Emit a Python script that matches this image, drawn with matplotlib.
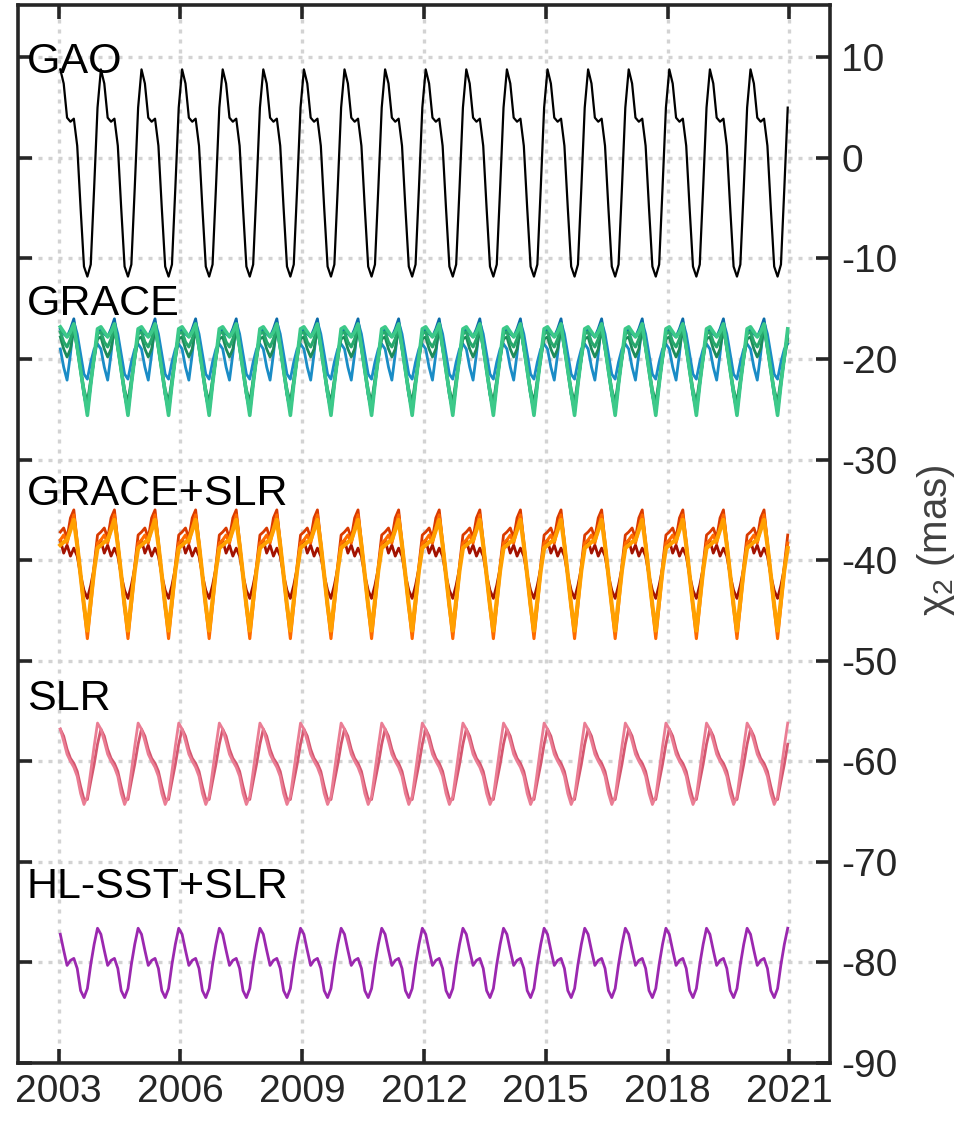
import numpy as np
import matplotlib
matplotlib.use("Agg")
import matplotlib.pyplot as plt

plt.rcParams['font.family'] = ['Liberation Sans', 'DejaVu Sans']
plt.rcParams['axes.unicode_minus'] = False
plt.rcParams['mathtext.fontset'] = 'custom'
plt.rcParams['mathtext.rm'] = 'Liberation Sans'
plt.rcParams['mathtext.it'] = 'Liberation Sans:italic'

# monthly samples, Jan 2003 .. Dec 2020
years = list(range(2003, 2021))

# mean annual cycles (Jan .. Dec), mas
gao_cycle = [8.8, 7.4, 4.0, 3.6, 3.9, 1.2, -5.0, -10.8, -11.8, -10.6, -3.0, 5.0]

grace_blue_a = [-19.0, -20.8, -22.1, -19.5, -16.3, -17.5, -19.5, -21.5, -22.0, -20.3, -19.0, -18.5]
grace_blue_b = [-17.0, -17.5, -17.8, -17.0, -16.0, -18.5, -21.0, -23.5, -25.3, -22.5, -19.8, -17.3]
grace_green_dark = [-17.8, -19.0, -19.8, -19.0, -17.0, -19.0, -21.0, -23.0, -24.3, -22.0, -20.0, -18.0]
grace_green_mid = [-17.3, -18.3, -18.8, -18.0, -16.7, -18.8, -21.2, -23.5, -25.0, -22.3, -19.8, -17.5]
grace_green_light = [-16.8, -17.3, -17.8, -17.3, -16.5, -18.8, -21.1, -23.3, -25.6, -22.5, -19.8, -17.0]

gs_darkred = [-38.0, -39.3, -38.5, -39.6, -38.8, -39.6, -41.5, -43.0, -43.8, -42.5, -40.8, -38.8]
gs_red = [-37.2, -36.8, -37.8, -35.8, -35.0, -38.2, -41.4, -44.6, -47.0, -44.0, -40.5, -37.5]
gs_orange = [-38.0, -37.5, -38.3, -36.8, -35.5, -38.5, -41.6, -44.8, -47.8, -44.5, -41.0, -38.3]
gs_lightorange = [-38.5, -38.2, -38.0, -37.0, -36.0, -38.5, -41.5, -44.5, -47.0, -44.0, -41.0, -38.8]

slr_light = [-56.8, -58.0, -59.3, -60.0, -60.6, -61.5, -63.2, -64.3, -63.5, -61.0, -58.5, -56.2]
slr_dark = [-56.8, -57.5, -58.8, -59.7, -60.2, -61.0, -62.5, -63.8, -63.8, -62.0, -60.3, -58.3]

hl_cycle = [-77.2, -78.8, -80.3, -79.8, -79.6, -80.6, -82.8, -83.5, -82.6, -80.2, -78.2, -76.6]

labels = ["GAO", "GRACE", "GRACE+SLR", "SLR", "HL-SST+SLR"]
label_y = [8.4, -15.6, -34.5, -54.9, -73.6]

# (cycle, colour, width) per group, drawn bottom to top
groups = [
    [(gao_cycle, "#000000", 1.6)],
    [(grace_blue_a, "#1a8cc6", 2.0), (grace_blue_b, "#0a6aa8", 2.0),
     (grace_green_dark, "#1d8c5a", 2.0), (grace_green_mid, "#26a86c", 2.2),
     (grace_green_light, "#3cc989", 2.6)],
    [(gs_darkred, "#a31200", 2.0), (gs_red, "#d93a00", 2.0),
     (gs_orange, "#ff6a00", 2.2), (gs_lightorange, "#ffa000", 3.0)],
    [(slr_dark, "#d4566f", 2.0), (slr_light, "#ea7d94", 2.0)],
    [(hl_cycle, "#9b28af", 2.0)],
]


def main():
    n_years = len(years)
    t = years[0] + (np.arange(12 * n_years) + 0.5) / 12.0

    fig = plt.figure(figsize=(9.58, 11.22), dpi=100)
    ax = fig.add_axes([0.0188, 0.0526, 0.8476, 0.9429])

    for grp in groups:
        for cyc, col, lw in grp:
            ax.plot(t, np.tile(cyc, n_years), color=col, lw=lw, zorder=3)

    for lab, yy in zip(labels, label_y):
        ax.text(2002.22, yy, lab, fontsize=31, color="black",
                va="baseline", ha="left", zorder=4)

    ax.set_xlim(2002, 2022)
    ax.set_ylim(-90, 15.2)
    ax.set_xticks(range(2003, 2022, 3))
    ax.set_yticks(range(-90, 11, 10))

    ax.grid(True, color="#d3d3d3", linestyle=(0, (1.2, 1.8)), linewidth=2.4, zorder=1)
    for s in ax.spines.values():
        s.set_linewidth(2.6)
        s.set_color("#262626")
    ax.tick_params(direction="in", length=10, width=2.6, color="#262626",
                   labelsize=28, labelcolor="#262626",
                   left=True, right=True, top=True, bottom=True,
                   labelleft=False, labelright=True, pad=8)
    ax.tick_params(axis="x", pad=8)

    # y-axis label on the right, outside the tick labels
    fig.text(936 / 958, 1 - 540 / 1122, r"$\mathrm{\chi_2}$ (mas)", fontsize=29,
             color="#404040", rotation=90, ha="center", va="center")

    fig.savefig("out.png", dpi=100)
    print("> Plot saved as out.png")


if __name__ == '__main__':
    main()
